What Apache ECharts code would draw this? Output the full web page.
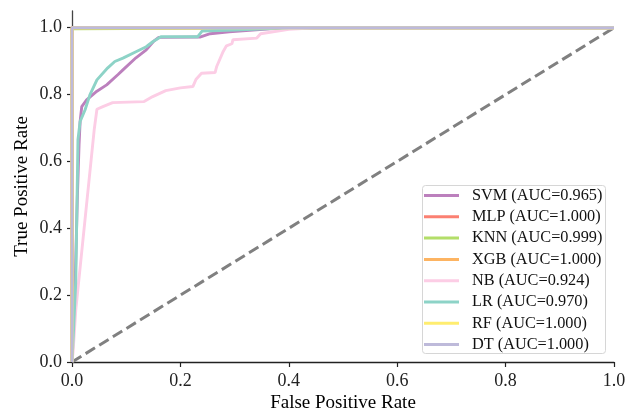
<!DOCTYPE html>
<html>
<head>
<meta charset="utf-8">
<script src="https://cdn.jsdelivr.net/npm/echarts@6/dist/echarts.min.js"></script>
<style>
html,body{margin:0;padding:0;background:#fff;}
#chart{width:639px;height:413px;}
</style>
</head>
<body>
<div id="chart"></div>
<script>
const modelNames = ['SVM (AUC=0.965)','MLP (AUC=1.000)','KNN (AUC=0.999)','XGB (AUC=1.000)','NB (AUC=0.924)','LR (AUC=0.970)','RF (AUC=1.000)','DT (AUC=1.000)'];
const modelColors = ['#bc80bd','#fb8072','#b3de69','#fdb462','#fccde5','#8dd3c7','#ffed6f','#bebada'];

const svmROC = [[0,0],[0.003,0.1],[0.005,0.18],[0.01,0.5],[0.013,0.65],[0.015,0.72],[0.018,0.764],[0.027,0.784],[0.046,0.81],[0.064,0.829],[0.085,0.86],[0.094,0.874],[0.118,0.91],[0.137,0.934],[0.151,0.96],[0.16,0.971],[0.236,0.972],[0.255,0.982],[0.29,0.988],[0.365,0.997],[0.45,1],[1,1]];
const mlpROC = [[0,0],[0,1],[1,1]];
const knnROC = [[0,0],[0,0.997],[0.4,1],[1,1]];
const xgbROC = [[0,0],[0,1],[1,1]];
const nbROC = [[0,0],[0.002,0.03],[0.007,0.156],[0.041,0.695],[0.046,0.756],[0.057,0.764],[0.075,0.776],[0.133,0.779],[0.149,0.794],[0.173,0.812],[0.2,0.82],[0.223,0.824],[0.229,0.846],[0.239,0.864],[0.264,0.866],[0.267,0.884],[0.279,0.929],[0.285,0.946],[0.295,0.952],[0.297,0.964],[0.341,0.969],[0.348,0.982],[0.4,0.995],[0.45,1],[1,1]];
const lrROC = [[0,0],[0.003,0.1],[0.007,0.245],[0.011,0.665],[0.015,0.72],[0.024,0.754],[0.033,0.799],[0.046,0.844],[0.066,0.88],[0.079,0.899],[0.094,0.909],[0.118,0.928],[0.137,0.943],[0.149,0.958],[0.164,0.973],[0.232,0.973],[0.24,0.99],[0.3,0.993],[0.4,1],[1,1]];
const rfROC = [[0,0],[0,1],[1,1]];
const dtROC = [[0,0],[0,1],[1,1]];
const chanceLine = [[0,0],[1,1]];

const curves = [svmROC, mlpROC, knnROC, xgbROC, nbROC, lrROC, rfROC, dtROC];
const tickValues = [0,0.2,0.4,0.6,0.8,1.0];

const FONT = 'Liberation Serif';
const LEGEND_ICON = 'path://M0 0H35V3H0Z M43 1.5L43 1.5';
const chart = echarts.init(document.getElementById('chart'), null, {renderer:'canvas'});

const series = [{
  type:'line', name:'chance', data: chanceLine, symbol:'none', silent:true,
  lineStyle:{color:'#808080', width:3, type:[11,5]}, z:1, animation:false
}];
curves.forEach((c,i)=>{
  series.push({
    type:'line', name: modelNames[i], data:c, symbol:'none', showSymbol:false,
    lineStyle:{color:modelColors[i], width:2.9}, itemStyle:{color:modelColors[i]},
    z:2, animation:false, clip:true
  });
});

chart.setOption({
  animation:false,
  backgroundColor:'#ffffff',
  grid:{left:72, right:25, top:11, bottom:51, outerBoundsMode:'none', containLabel:false},
  xAxis:{
    type:'value', min:0, max:1, interval:0.2,
    name:'False Positive Rate', nameLocation:'middle', nameGap:32, nameMoveOverlap:false,
    nameTextStyle:{fontFamily:FONT, fontSize:19, color:'#000'},
    axisLine:{show:true, lineStyle:{color:'#222', width:1.3}},
    axisTick:{show:true, length:5, lineStyle:{color:'#222', width:1.2}},
    axisLabel:{fontFamily:FONT, fontSize:18, color:'#222', margin:10, formatter:v=>v.toFixed(1)},
    splitLine:{show:false}
  },
  yAxis:{
    type:'value', min:0, max:1.05,
    name:'True Positive Rate', nameLocation:'middle', nameGap:40, nameMoveOverlap:false,
    nameTextStyle:{fontFamily:FONT, fontSize:19, color:'#000'},
    axisLine:{show:true, lineStyle:{color:'#444', width:1.3}},
    axisTick:{show:true, length:5, customValues:tickValues, lineStyle:{color:'#222', width:1.2}},
    axisLabel:{fontFamily:FONT, fontSize:18, color:'#222', margin:10, customValues:tickValues, formatter:v=>v.toFixed(1)},
    splitLine:{show:false}
  },
  graphic:[{
    type:'rect', left:422, top:185, z:3, silent:true,
    shape:{width:183, height:168, r:3},
    style:{fill:'rgba(255,255,255,0.8)', stroke:'#d6d6d6', lineWidth:1}
  }],
  legend:{
    data: modelNames.map((n,i)=>({name:n, icon:LEGEND_ICON, itemStyle:{color:modelColors[i]}})),
    orient:'vertical', left:424, top:187.5, z:5,
    itemWidth:43, itemHeight:14, itemGap:5.3,
    padding:0,
    textStyle:{fontFamily:FONT, fontSize:16.3, color:'#111'}
  },
  series: series
});
</script>
</body>
</html>
